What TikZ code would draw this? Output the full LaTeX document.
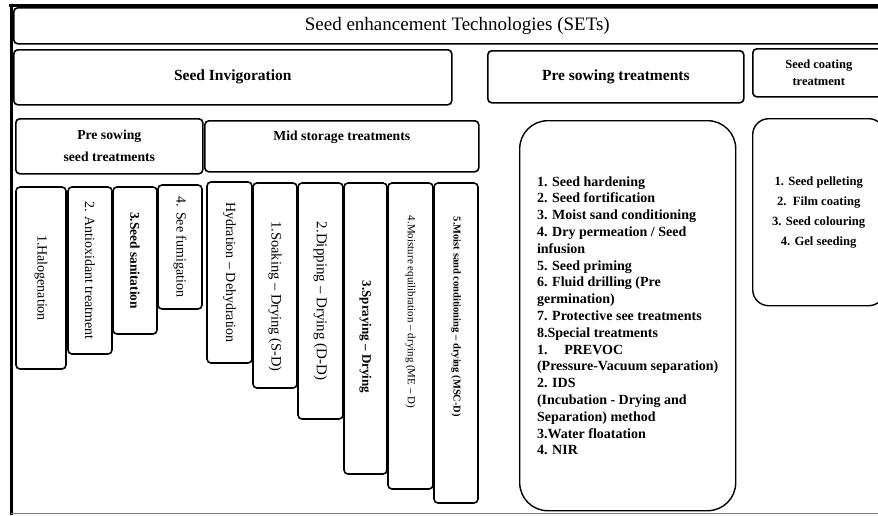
\documentclass[tikz,border=0pt]{standalone}
\usepackage{fontspec}
\setmainfont{Liberation Serif}
\usepackage{tikz}
\tikzstyle{frame} = [line width=3pt, black]
\tikzstyle{block} = [rectangle, draw, rounded corners=4pt, line width=1.6pt,
    align=center, inner sep=2pt, anchor=north west]
\tikzstyle{head} = [block, font=\fontsize{15.5}{18}\selectfont\bfseries]
\tikzstyle{sub} = [block, font=\fontsize{13.7}{22}\selectfont\bfseries]
\tikzstyle{vbox} = [rectangle, draw, rounded corners=4pt, line width=1.6pt,
    rotate=-90, inner sep=1pt, font=\fontsize{14}{16}\selectfont]
\tikzstyle{listbox} = [block, line width=1.4pt, font=\fontsize{14}{16.8}\selectfont\bfseries]

\begin{document}
\begin{tikzpicture}[x=1pt,y=-1pt]
    \clip (0,0) rectangle (878,515);
    % Outer frame
    \draw[frame] (9,5) -- (878,5);
    \draw[frame] (11,5) -- (11,515);
    \draw[line width=1.5pt, gray] (11,513.5) -- (878,513.5);

    % Place nodes
    \node[block, minimum width=887pt, minimum height=36pt, font=\fontsize{19}{22}\selectfont] (sets) at (13,7) {Seed enhancement Technologies (SETs)};

    \node[head, minimum width=438pt, minimum height=55pt] (invig) at (13,49) {Seed Invigoration};
    \node[head, minimum width=256pt, minimum height=52pt] (presow) at (487,50) {Pre sowing treatments};
    \node[head, minimum width=132pt, minimum height=48pt, font=\fontsize{12.5}{17}\selectfont\bfseries] (coat) at (752,48) {Seed coating\\treatment};

    \node[sub, minimum width=187pt, minimum height=55pt] (preseed) at (15,118) {Pre sowing\\seed treatments};
    \node[sub, minimum width=274pt, minimum height=51pt] (midstore) at (204,120) {Mid storage treatments\\\mbox{}};

    % pre sowing seed treatments
    \node[vbox, minimum width=182pt, minimum height=50pt] (halo) at (41,278) {1.Halogenation};
    \node[vbox, minimum width=167pt, minimum height=44pt] (antiox) at (90,270.5) {2. Antioxidant treatment};
    \node[vbox, minimum width=147pt, minimum height=44pt, font=\fontsize{13.4}{16}\selectfont\bfseries] (sanit) at (135,260.5) {3.Seed sanitation};
    \node[vbox, minimum width=124pt, minimum height=44pt] (fumig) at (180,247) {4. See fumigation};

    % mid storage treatments
    \node[vbox, minimum width=181pt, minimum height=45pt] (hydra) at (229.5,272.5) {Hydration -- Dehydration};
    \node[vbox, minimum width=205pt, minimum height=44pt, font=\fontsize{14.5}{17}\selectfont] (soak) at (275,285.5) {\hspace{22pt}1.Soaking -- Drying (S-D)};
    \node[vbox, minimum width=236pt, minimum height=45pt, font=\fontsize{15}{17}\selectfont] (dip) at (320.5,301) {2.Dipping -- Drying (D-D)};
    \node[vbox, minimum width=291pt, minimum height=43pt, font=\fontsize{13}{16}\selectfont\bfseries] (spray) at (365.5,328.5) {\hspace{17pt}3.Spraying -- Drying};
    \node[vbox, minimum width=306pt, minimum height=45pt, font=\fontsize{11}{13}\selectfont] (moist) at (410.5,336) {4.Moisture equilibration -- drying (ME -- D)\hspace{48pt}\null};
    \node[vbox, minimum width=320pt, minimum height=44pt, font=\fontsize{10.5}{13}\selectfont\bfseries] (sand) at (456,343) {5.Moist sand conditioning -- drying (MSC-D)\hspace{52pt}\null};

    % lists
    \node[listbox, rounded corners=28pt, align=left, minimum width=216pt, minimum height=390pt] (presowlist) at (519,120) {1. Seed hardening\\
        2. Seed fortification\\
        3. Moist sand conditioning\\
        4. Dry permeation / Seed\\
        infusion\\
        5. Seed priming\\
        6. Fluid drilling (Pre\\
        germination)\\
        7. Protective see treatments\\
        8.Special treatments\\
        1.\hspace{1.2em}PREVOC\\
        (Pressure-Vacuum separation)\\
        2. IDS\\
        (Incubation - Drying and\\
        Separation) method\\
        3.Water floatation\\
        4. NIR};
    \node[listbox, rounded corners=16pt, minimum width=132pt, minimum height=187pt, font=\fontsize{12.6}{20}\selectfont\bfseries] (coatlist) at (752,118) {1. Seed pelleting\\
        2.\ \ Film coating\\
        3. Seed colouring\\
        4. Gel seeding};
\end{tikzpicture}
\end{document}
